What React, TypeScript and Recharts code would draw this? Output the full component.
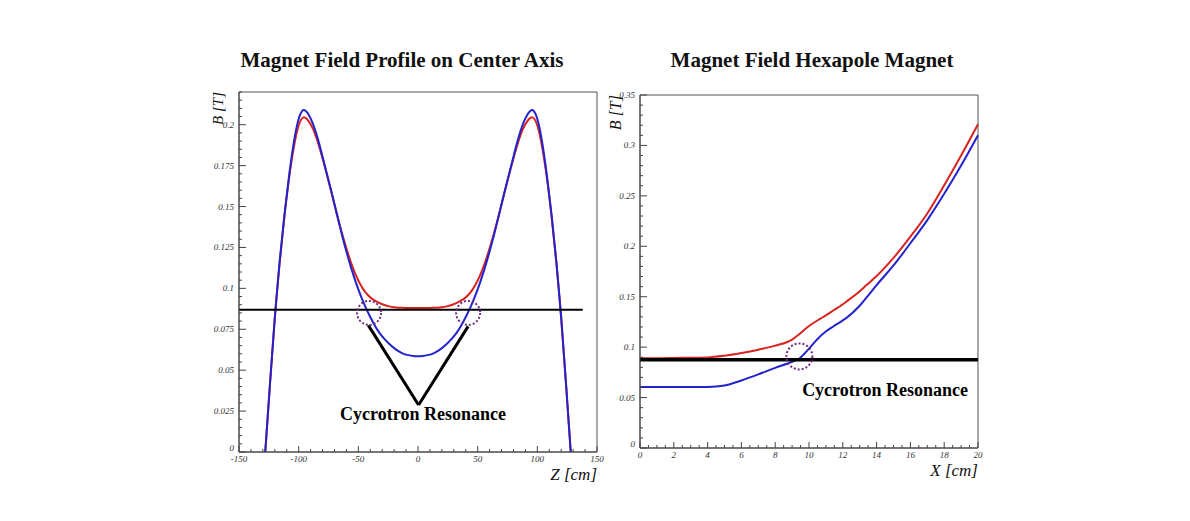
import React from 'react';
import { LineChart, Line, XAxis, YAxis, ReferenceLine, ReferenceDot, ReferenceArea } from 'recharts';

// ---------- Left chart: Magnet Field Profile on Center Axis ----------
const zPositions = [
  -128, -124, -120, -116, -112, -108, -104, -100, -96, -92, -88, -84, -80, -76, -72, -68, -64, -60, -56, -52, -48, -44, -40,
  -36, -32, -28, -24, -20, -16, -12, -8, -4, 0, 4, 8, 12, 16, 20, 24, 28, 32, 36, 40, 44, 48, 52, 56, 60, 64, 68, 72, 76, 80,
  84, 88, 92, 96, 100, 104, 108, 112, 116, 120, 124, 128,
];
const redAxis = [
  0, 0.042, 0.082, 0.115, 0.1435, 0.1675, 0.1865, 0.1995, 0.2045, 0.2025, 0.1975, 0.1895, 0.1795, 0.1685, 0.157, 0.1455,
  0.1345, 0.1245, 0.1155, 0.108, 0.102, 0.0975, 0.0945, 0.0925, 0.091, 0.0898, 0.089, 0.0885, 0.0882, 0.0881, 0.088, 0.088,
  0.088, 0.088, 0.088, 0.0881, 0.0882, 0.0885, 0.089, 0.0898, 0.091, 0.0925, 0.0945, 0.0975, 0.102, 0.108, 0.1155, 0.1245,
  0.1345, 0.1455, 0.157, 0.1685, 0.1795, 0.1895, 0.1975, 0.2025, 0.2045, 0.1995, 0.1865, 0.1675, 0.1435, 0.115, 0.082,
  0.042, 0,
];
const blueAxis = [
  0, 0.042, 0.082, 0.116, 0.1445, 0.169, 0.1895, 0.2035, 0.209, 0.2065, 0.2005, 0.1915, 0.1805, 0.169, 0.1575, 0.1455,
  0.1335, 0.1225, 0.1125, 0.1035, 0.0955, 0.0885, 0.0825, 0.077, 0.0725, 0.069, 0.066, 0.0635, 0.0615, 0.06, 0.0592, 0.0587,
  0.0585, 0.0587, 0.0592, 0.06, 0.0615, 0.0635, 0.066, 0.069, 0.0725, 0.077, 0.0825, 0.0885, 0.0955, 0.1035, 0.1125,
  0.1225, 0.1335, 0.1455, 0.1575, 0.169, 0.1805, 0.1915, 0.2005, 0.2065, 0.209, 0.2035, 0.1895, 0.169, 0.1445, 0.116,
  0.082, 0.042, 0,
];
const leftXMajor = [-150, -100, -50, 0, 50, 100, 150];
const leftYMajor = [0, 0.025, 0.05, 0.075, 0.1, 0.125, 0.15, 0.175, 0.2];
const leftResonanceLevel = 0.087;

// ---------- Right chart: Magnet Field Hexapole Magnet ----------
const xPositions = [0, 1, 2, 3, 4, 5, 6, 7, 8, 9, 9.4, 10, 10.65, 11, 11.44, 12, 12.2, 13, 13.4, 14, 15, 16, 17, 18, 19, 20];
const redHex = [
  0.089, 0.089, 0.0892, 0.0895, 0.0898, 0.0915, 0.0942, 0.0975, 0.1015, 0.1075, 0.1125, 0.121, 0.128, 0.1315, 0.1363,
  0.1425, 0.145, 0.1555, 0.1615, 0.1705, 0.1885, 0.2095, 0.2325, 0.2605, 0.29, 0.321,
];
const blueHex = [
  0.0604, 0.0604, 0.0604, 0.0604, 0.0605, 0.062, 0.067, 0.073, 0.0795, 0.0855, 0.0885, 0.0985, 0.1106, 0.1155, 0.1205,
  0.1265, 0.1288, 0.141, 0.149, 0.1615, 0.181, 0.203, 0.226, 0.252, 0.28, 0.31,
];
const rightXMajor = [0, 2, 4, 6, 8, 10, 12, 14, 16, 18, 20];
const rightYMajor = [0, 0.05, 0.1, 0.15, 0.2, 0.25, 0.3, 0.35];
const rightResonanceLevel = 0.0875;

const leftData = zPositions.map((z, i) => ({ z, red: redAxis[i], blue: blueAxis[i] }));
const rightData = xPositions.map((x, i) => ({ x, red: redHex[i], blue: blueHex[i] }));

const fmt = (v: number) => String(parseFloat(v.toFixed(4)));
const buildTicks = (min: number, max: number, step: number) => {
  const out: number[] = [];
  const n = Math.round((max - min) / step);
  for (let i = 0; i <= n; i++) out.push(parseFloat((min + i * step).toFixed(5)));
  return out;
};
const isMajor = (v: number, majors: number[]) => majors.some((m) => Math.abs(m - v) < 1e-7);

const SERIF = '"Liberation Serif", "DejaVu Serif", serif';
const AXIS_COLOR = '#444';
const TICK_TEXT = { fontFamily: SERIF, fontStyle: 'italic' as const, fontSize: 9, fill: '#333' };

const makeXTick = (majors: number[], majorLen: number, minorLen: number) => (props: any) => {
  const { x, y, payload } = props;
  const v = payload.value;
  const major = isMajor(v, majors);
  return (
    <g>
      <line x1={x} x2={x} y1={y} y2={y - (major ? majorLen : minorLen)} stroke={AXIS_COLOR} strokeWidth={1} />
      {major && (
        <text x={x} y={y + 10} textAnchor="middle" {...TICK_TEXT}>
          {fmt(v)}
        </text>
      )}
    </g>
  );
};
const makeYTick = (majors: number[], majorLen: number, minorLen: number) => (props: any) => {
  const { x, y, payload } = props;
  const v = payload.value;
  const major = isMajor(v, majors);
  return (
    <g>
      <line x1={x} x2={x + (major ? majorLen : minorLen)} y1={y} y2={y} stroke={AXIS_COLOR} strokeWidth={1} />
      {major && (
        <text x={x - 5} y={v === 0 ? y - 1 : y + 3} textAnchor="end" {...TICK_TEXT}>
          {fmt(v)}
        </text>
      )}
    </g>
  );
};

const xAxisLabel = (text: string) => (props: any) => {
  const vb = props.viewBox;
  return (
    <text x={vb.x + vb.width} y={vb.y + 28} textAnchor="end" fontFamily={SERIF} fontStyle="italic" fontSize={17} fill="#111">
      {text}
    </text>
  );
};
const yAxisLabel = (text: string, dx: number, size: number) => (props: any) => {
  const vb = props.viewBox;
  const cx = vb.x + vb.width - dx;
  const cy = vb.y;
  return (
    <text
      x={cx}
      y={cy}
      transform={`rotate(-90 ${cx} ${cy})`}
      textAnchor="end"
      dominantBaseline="central"
      fontFamily={SERIF}
      fontStyle="italic"
      fontSize={size}
      fill="#111"
    >
      {text}
    </text>
  );
};

const titleStyle = (left: number, width: number): React.CSSProperties => ({
  position: 'absolute',
  left,
  top: 47,
  width,
  textAlign: 'center',
  fontFamily: SERIF,
  fontWeight: 'bold',
  fontSize: 21,
  color: '#111',
  lineHeight: '26px',
  whiteSpace: 'nowrap',
});

const RED = '#d8231f';
const BLUE = '#2323cc';
const PURPLE = '#6e2f86';
const annotationLabel = {
  value: 'Cycrotron Resonance',
  position: 'center' as const,
  fontFamily: SERIF,
  fontWeight: 'bold',
  fontSize: 18,
  fill: '#000',
};

export default function App() {
  const leftXTicks = buildTicks(-150, 150, 10);
  const leftYTicks = buildTicks(0, 0.22, 0.005);
  const rightXTicks = buildTicks(0, 20, 0.5);
  const rightYTicks = buildTicks(0, 0.35, 0.01);

  return (
    <div style={{ position: 'absolute', left: 0, top: 0, width: 1190, height: 521, background: '#fff', overflow: 'hidden' }}>
      <div style={titleStyle(200, 404)}>Magnet Field Profile on Center Axis</div>
      <div style={titleStyle(612, 400)}>Magnet Field Hexapole Magnet</div>

      <div style={{ position: 'absolute', left: 180, top: 40 }}>
        <LineChart width={440} height={460} data={leftData} margin={{ top: 52, right: 23, bottom: 8, left: 9 }}>
          <XAxis
            dataKey="z"
            type="number"
            domain={[-150, 150]}
            ticks={leftXTicks}
            interval={0}
            height={40}
            tickSize={0}
            tickMargin={0}
            tickLine={false}
            axisLine={{ stroke: AXIS_COLOR }}
            tick={makeXTick(leftXMajor, 6, 3)}
            label={{ content: xAxisLabel('Z [cm]') }}
          />
          <YAxis
            type="number"
            domain={[0, 0.22]}
            allowDataOverflow
            ticks={leftYTicks}
            interval={0}
            width={50}
            tickSize={0}
            tickMargin={0}
            tickLine={false}
            axisLine={{ stroke: AXIS_COLOR }}
            tick={makeYTick(leftYMajor, 7, 3)}
            label={{ content: yAxisLabel('B [T]', 21, 15) }}
          />
          <ReferenceArea x1={-150} x2={150} y1={0} y2={0.22} fill="none" stroke="#555" strokeWidth={1} />
          <Line type="natural" dataKey="red" stroke={RED} strokeWidth={2} dot={false} isAnimationActive={false} />
          <Line type="natural" dataKey="blue" stroke={BLUE} strokeWidth={2} dot={false} isAnimationActive={false} />
          <ReferenceLine
            segment={[
              { x: -150, y: leftResonanceLevel },
              { x: 138, y: leftResonanceLevel },
            ]}
            stroke="#000"
            strokeWidth={2}
          />
          <ReferenceDot x={-41} y={0.085} r={12} fill="none" stroke={PURPLE} strokeWidth={2} strokeDasharray="2 2" />
          <ReferenceDot x={42} y={0.085} r={12} fill="none" stroke={PURPLE} strokeWidth={2} strokeDasharray="2 2" />
          <ReferenceLine
            segment={[
              { x: -41.6, y: 0.0774 },
              { x: 0.5, y: 0.0287 },
            ]}
            stroke="#000"
            strokeWidth={3}
          />
          <ReferenceLine
            segment={[
              { x: 0.5, y: 0.0287 },
              { x: 42, y: 0.0768 },
            ]}
            stroke="#000"
            strokeWidth={3}
          />
          <ReferenceDot x={4.2} y={0.0234} r={0} fill="none" stroke="none" label={annotationLabel} />
        </LineChart>
      </div>

      <div style={{ position: 'absolute', left: 590, top: 40 }}>
        <LineChart width={420} height={460} data={rightData} margin={{ top: 55, right: 32, bottom: 12, left: 0 }}>
          <XAxis
            dataKey="x"
            type="number"
            domain={[0, 20]}
            ticks={rightXTicks}
            interval={0}
            height={40}
            tickSize={0}
            tickMargin={0}
            tickLine={false}
            axisLine={{ stroke: AXIS_COLOR }}
            tick={makeXTick(rightXMajor, 6, 3)}
            label={{ content: xAxisLabel('X [cm]') }}
          />
          <YAxis
            type="number"
            domain={[0, 0.35]}
            allowDataOverflow
            ticks={rightYTicks}
            interval={0}
            width={50}
            tickSize={0}
            tickMargin={0}
            tickLine={false}
            axisLine={{ stroke: AXIS_COLOR }}
            tick={makeYTick(rightYMajor, 7, 3)}
            label={{ content: yAxisLabel('B [T]', 25, 16) }}
          />
          <ReferenceArea x1={0} x2={20} y1={0} y2={0.35} fill="none" stroke="#555" strokeWidth={1} />
          <Line type="monotone" dataKey="red" stroke={RED} strokeWidth={2} dot={false} isAnimationActive={false} />
          <Line type="monotone" dataKey="blue" stroke={BLUE} strokeWidth={2} dot={false} isAnimationActive={false} />
          <ReferenceLine y={rightResonanceLevel} stroke="#000" strokeWidth={3.5} />
          <ReferenceDot x={9.43} y={0.0908} r={13} fill="none" stroke={PURPLE} strokeWidth={2} strokeDasharray="2 2" />
          <ReferenceDot x={14.5} y={0.0578} r={0} fill="none" stroke="none" label={annotationLabel} />
        </LineChart>
      </div>
    </div>
  );
}
